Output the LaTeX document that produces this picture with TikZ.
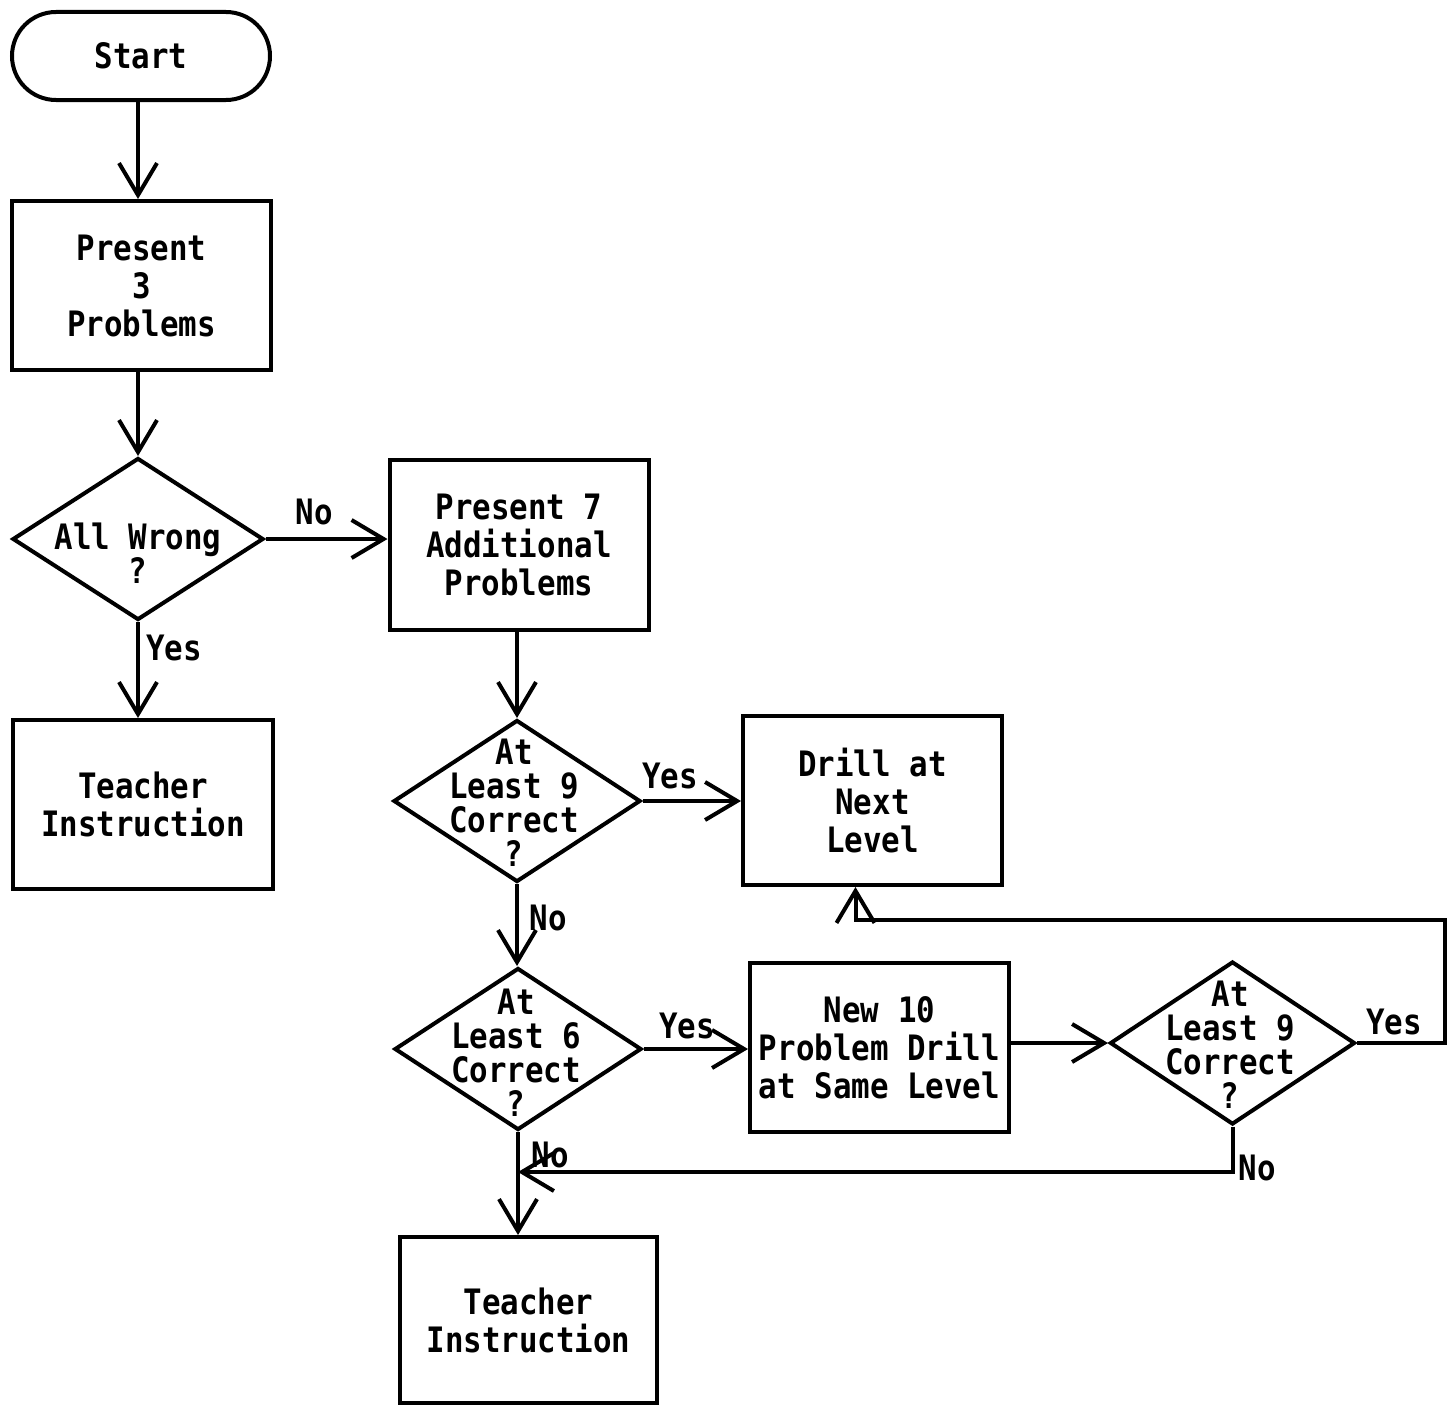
\documentclass[tikz,border=0pt]{standalone}
\usepackage{fontspec}
\setmonofont{DejaVu Sans Mono}[FakeStretch=0.88]
\usetikzlibrary{shapes.geometric,arrows.meta}
\tikzset{
  box/.style={draw, rectangle, minimum width=259pt, minimum height=169pt, align=center},
  dec/.style={draw, diamond, minimum width=247pt, minimum height=162pt, inner sep=0pt},
  dectext/.style={align=center, inner sep=0pt, font=\fontsize{35}{34}\selectfont\ttfamily\bfseries},
  lbl/.style={inner sep=0pt},
  flow/.style={-{Straight Barb[length=32pt,width=38pt]}},
}
\begin{document}
\begin{tikzpicture}[x=1pt,y=-1pt,line width=4pt,font=\fontsize{35}{38}\selectfont\ttfamily\bfseries]
    \useasboundingbox (0,0) rectangle (1448,1405);
    % left column
    \node[draw, rounded corners=44pt, minimum width=258pt, minimum height=88pt] (start) at (141,56) {Start};
    \node[box] (present3) at (141.5,285.5) {Present\\3\\Problems};
    \node[dec, minimum width=251pt] (allwrong) at (138,539) {};
    \node[dectext] (allwrongtxt) at (138,553) {All Wrong\\?};
    \node[box, minimum width=260pt] (teach1) at (143,804.5) {Teacher\\Instruction};
    % middle column
    \node[box, minimum height=170pt] (present7) at (519,545) {Present 7\\Additional\\Problems};
    \node[dec] (least9a) at (517,801) {};
    \node[dectext] (least9atxt) at (514,803) {At\\Least 9\\Correct\\?};
    \node[dec] (least6) at (518,1049) {};
    \node[dectext] (least6txt) at (516,1053) {At\\Least 6\\Correct\\?};
    \node[box, minimum width=257pt, minimum height=166pt] (teach2) at (528.5,1320) {Teacher\\Instruction};
    % right part
    \node[box] (drill) at (872.5,800.5) {Drill at\\Next\\Level};
    \node[box] (newdrill) at (879.5,1047.5) {New 10\\Problem Drill\\at Same Level};
    \node[dec, minimum width=245pt, minimum height=163pt] (least9b) at (1232.5,1043) {};
    \node[dectext] (least9btxt) at (1230,1045) {At\\Least 9\\Correct\\?};
    \coordinate (loopcorner) at (1445,920);
    \coordinate (nolevel) at (1230,1172);

    \draw[flow] (start.south -| allwrong.north) -- (present3.north -| allwrong.north);
    \draw[flow] (allwrong.north |- present3.south) -- (allwrong.north);
    \draw[flow] (allwrong.east) -- (allwrong.east -| present7.west);
    \node[lbl] (no1) at (314,512) {No};
    \draw[flow] (allwrong.south) -- (allwrong.south |- teach1.north);
    \node[lbl] (yes1) at (174,648) {Yes};
    \draw[flow] (least9a.north |- present7.south) -- (least9a.north);
    \draw[flow] (least9a.east) -- (least9a.east -| drill.west);
    \node[lbl] (yes2) at (670,776) {Yes};
    \draw[flow] (least9a.south) -- (least9a.south |- least6.north);
    \node[lbl] (no2) at (548,918) {No};
    \draw[flow] (least6.east) -- (least6.east -| newdrill.west);
    \node[lbl] (yes3) at (687,1026) {Yes};
    \draw[flow] (newdrill.east |- least9b.west) -- (least9b.west);
    \draw[flow] (least9b.east) -| (loopcorner) -| ([xshift=-17pt]drill.south);
    \node[lbl] (yes4) at (1394,1022) {Yes};
    \draw[flow] (least9b.south) |- (least6.south |- nolevel);
    \node[lbl] (no3) at (1257,1168) {No};
    \draw[flow] (least6.south) -- (least6.south |- teach2.north);
    \node[lbl] (no4) at (550,1155) {No};
\end{tikzpicture}
\end{document}
